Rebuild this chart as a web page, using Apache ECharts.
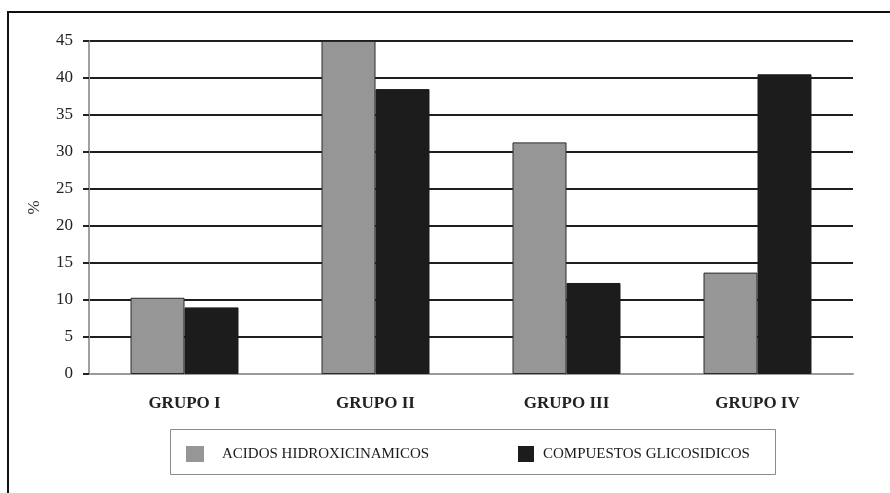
<!DOCTYPE html>
<html>
<head>
<meta charset="utf-8">
<script src="https://cdn.jsdelivr.net/npm/echarts@6/dist/echarts.min.js"></script>
<style>
  html, body { margin: 0; padding: 0; background: #ffffff; }
  #chart { width: 890px; height: 493px; }
</style>
</head>
<body>
<div id="chart"></div>
<script>
// Groups along the x axis
const categories = ['GRUPO I', 'GRUPO II', 'GRUPO III', 'GRUPO IV'];
// Percentage of each compound family per group
const acidosHidroxicinamicos = [10.3, 45.0, 31.3, 13.7];
const compuestosGlicosidicos = [9.0, 38.5, 12.3, 40.5];
const seriesNames = ['ACIDOS HIDROXICINAMICOS', 'COMPUESTOS GLICOSIDICOS'];
// Value axis range and step
const yMin = 0, yMax = 45, yStep = 5;

const serif = '"Liberation Serif", "DejaVu Serif", serif';
const chart = echarts.init(document.getElementById('chart'), null, { renderer: 'canvas' });

chart.setOption({
  animation: false,
  backgroundColor: '#ffffff',
  grid: { left: 89, right: 37, top: 41, bottom: 119, containLabel: false },
  graphic: [
    // outer frame (runs off the right and bottom of the canvas)
    { type: 'rect', shape: { x: 8, y: 12, width: 900, height: 500 },
      style: { fill: 'none', stroke: '#111', lineWidth: 2 }, z: -1 },
    // legend frame
    { type: 'rect', shape: { x: 170.5, y: 429.5, width: 605, height: 45 },
      style: { fill: 'none', stroke: '#8a8a8a', lineWidth: 1 }, z: -1 }
  ],
  legend: [
    { data: [seriesNames[0]], left: 186, top: 446, itemWidth: 18, itemHeight: 16,
      textStyle: { fontFamily: serif, fontSize: 15, color: '#1a1a1a', padding: [0, 0, 0, 13] },
      padding: 0, icon: 'rect', itemStyle: { borderWidth: 0 } },
    { data: [seriesNames[1]], left: 518, top: 446, itemWidth: 16, itemHeight: 16,
      textStyle: { fontFamily: serif, fontSize: 15, color: '#1a1a1a', padding: [0, 0, 0, 4] },
      padding: 0, icon: 'rect', itemStyle: { borderWidth: 0 } }
  ],
  xAxis: {
    type: 'category',
    data: categories,
    axisLine: { show: true, lineStyle: { color: '#9a9a9a', width: 2 } },
    axisTick: { show: false },
    axisLabel: { fontFamily: serif, fontSize: 17, fontWeight: 'bold', color: '#222', margin: 21 }
  },
  yAxis: {
    type: 'value',
    min: yMin, max: yMax, interval: yStep,
    name: '%',
    nameLocation: 'middle',
    nameGap: 46,
    nameRotate: 90,
    nameTextStyle: { fontFamily: serif, fontSize: 17, color: '#333' },
    axisLine: { show: true, lineStyle: { color: '#a0a0a0', width: 2 } },
    axisTick: { show: true, inside: false, length: 6, lineStyle: { color: '#222', width: 2 } },
    axisLabel: { fontFamily: serif, fontSize: 17, color: '#222', margin: 16 },
    splitLine: { show: true, lineStyle: { color: '#1e1e1e', width: 2 } }
  },
  series: [
    { name: seriesNames[0], type: 'bar', data: acidosHidroxicinamicos,
      barWidth: 54, barGap: '0%',
      itemStyle: { color: '#969696', borderColor: '#2a2a2a', borderWidth: 1 } },
    { name: seriesNames[1], type: 'bar', data: compuestosGlicosidicos,
      barWidth: 54, barGap: '0%',
      itemStyle: { color: '#1c1c1c', borderColor: '#1c1c1c', borderWidth: 1 } }
  ]
});
</script>
</body>
</html>
